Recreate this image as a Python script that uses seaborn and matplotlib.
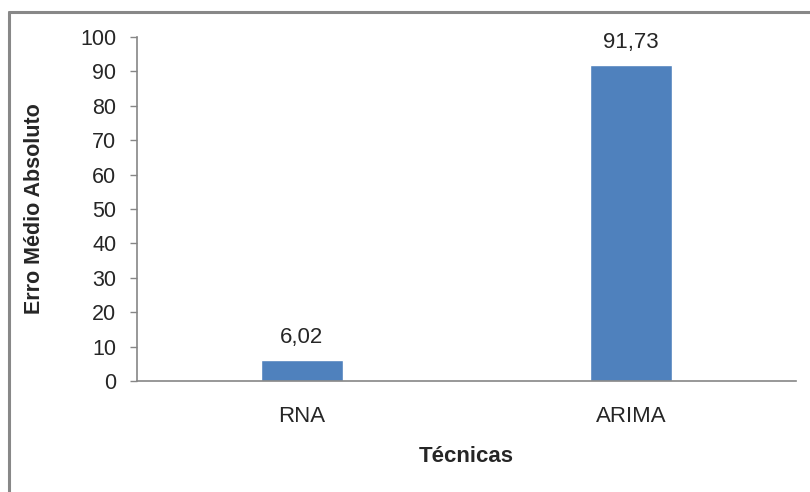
import seaborn as sns
import pandas as pd
import matplotlib.pyplot as plt
from matplotlib.lines import Line2D

tecnicas = ['RNA', 'ARIMA']
erro_medio = [6.02, 91.73]
y_ticks = [0, 10, 20, 30, 40, 50, 60, 70, 80, 90, 100]

sns.set_style('white')
plt.rcParams['font.family'] = ['Liberation Sans', 'DejaVu Sans']

df = pd.DataFrame({'Técnicas': tecnicas, 'Erro': erro_medio})

fig = plt.figure(figsize=(8.1, 4.92), dpi=100)
ax = fig.add_axes([137 / 810, 1 - 381 / 492, 659 / 810, 344 / 492])

sns.barplot(x='Técnicas', y='Erro', data=df, color='#4F81BD', width=0.25,
            saturation=1, ax=ax)

ax.set_ylim(0, 100)
ax.set_xlim(-0.5, 1.5)
ax.set_yticks(y_ticks)
ax.tick_params(axis='y', labelsize=15.5, length=5, width=1, color='#868686',
               pad=10, left=True)
ax.tick_params(axis='x', labelsize=16, length=0, pad=18)

for side in ['top', 'right']:
    ax.spines[side].set_visible(False)
for side in ['left', 'bottom']:
    ax.spines[side].set_color('#868686')
    ax.spines[side].set_linewidth(1.2)

ax.bar_label(ax.containers[0], labels=[f'{v:.2f}'.replace('.', ',') for v in erro_medio],
             padding=9, fontsize=16)

ax.set_ylabel('Erro Médio Absoluto', fontsize=15.5, fontweight='bold')
ax.set_xlabel('Técnicas', fontsize=16, fontweight='bold')
ax.yaxis.set_label_coords((45 - 137) / 659, 0.5)
ax.xaxis.set_label_coords(0.5, (381 - 446) / 344)

# moldura do gráfico (só topo e esquerda visíveis no recorte)
fig.add_artist(Line2D([9 / 810, 1], [1 - 12 / 492, 1 - 12 / 492], color='#888888',
                      linewidth=2.2, transform=fig.transFigure))
fig.add_artist(Line2D([9 / 810, 9 / 810], [0, 1 - 12 / 492], color='#888888',
                      linewidth=2.2, transform=fig.transFigure))

fig.savefig('out.png', dpi=100)
